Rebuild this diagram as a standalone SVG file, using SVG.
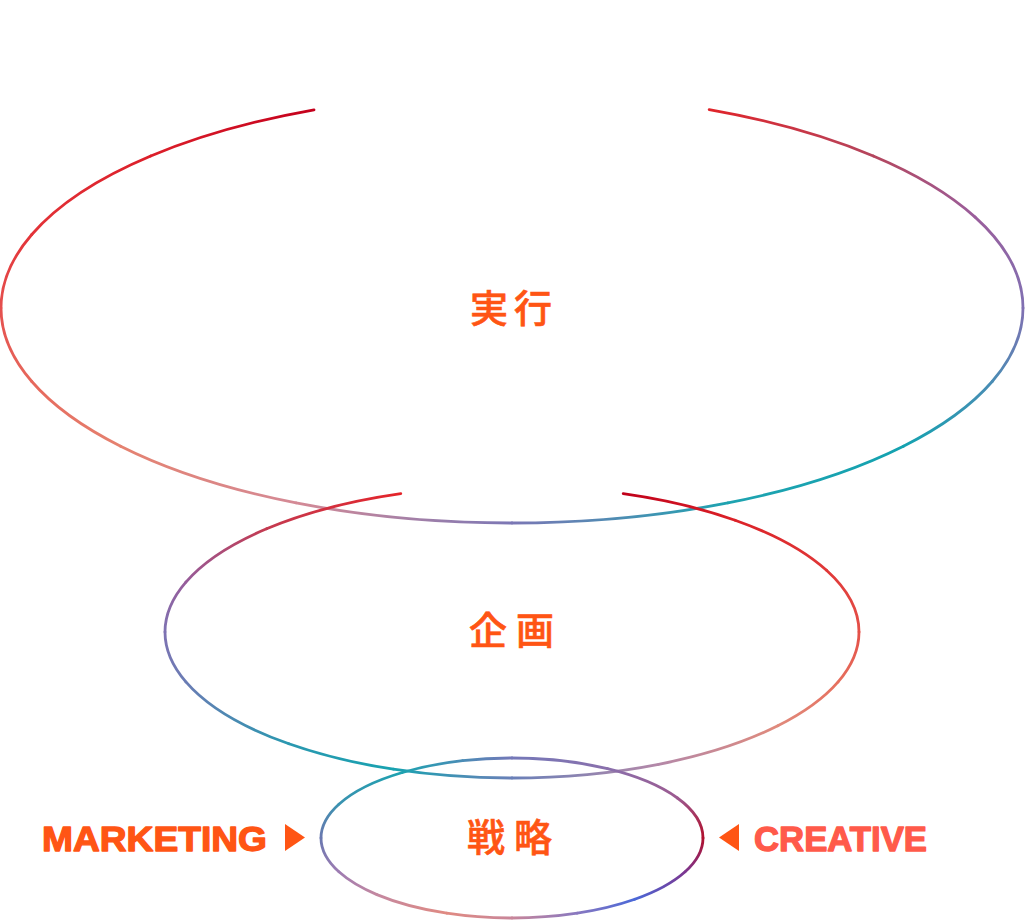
<svg xmlns="http://www.w3.org/2000/svg" width="1025" height="921" viewBox="0 0 1025 921">
<style>
.seg{fill:none;stroke-width:2.8;stroke-linecap:round}
.kanji{font-family:"Noto Sans CJK JP","Noto Sans CJK SC",sans-serif;font-size:38px;font-weight:500;fill:#ff5514;stroke:#ff5514;stroke-width:0.6;text-anchor:middle}
.lat{font-family:"Liberation Sans",Arial,sans-serif;font-size:35px;font-weight:bold;stroke-width:1.3;stroke-linejoin:round}
.tri{fill:#ff5514}
</style>
<defs>
<linearGradient id="t1" gradientUnits="userSpaceOnUse" x1="314" y1="109.8" x2="150.7" y2="156"><stop offset="0" stop-color="#c4001c"/><stop offset="1" stop-color="#dc1f2a"/></linearGradient>
<linearGradient id="t2" gradientUnits="userSpaceOnUse" x1="150.7" y1="156" x2="31.8" y2="234.5"><stop offset="0" stop-color="#dc1f2a"/><stop offset="1" stop-color="#e33338"/></linearGradient>
<linearGradient id="t3" gradientUnits="userSpaceOnUse" x1="31.8" y1="234.5" x2="1" y2="308"><stop offset="0" stop-color="#e33338"/><stop offset="1" stop-color="#e5504e"/></linearGradient>
<linearGradient id="t4" gradientUnits="userSpaceOnUse" x1="1" y1="308" x2="31.8" y2="381.5"><stop offset="0" stop-color="#e5504e"/><stop offset="1" stop-color="#e6685c"/></linearGradient>
<linearGradient id="t5" gradientUnits="userSpaceOnUse" x1="31.8" y1="381.5" x2="120.6" y2="446.2"><stop offset="0" stop-color="#e6685c"/><stop offset="1" stop-color="#e58270"/></linearGradient>
<linearGradient id="t6" gradientUnits="userSpaceOnUse" x1="120.6" y1="446.2" x2="296.1" y2="502.9"><stop offset="0" stop-color="#e58270"/><stop offset="1" stop-color="#d48a96"/></linearGradient>
<linearGradient id="t7" gradientUnits="userSpaceOnUse" x1="296.1" y1="502.9" x2="512" y2="523"><stop offset="0" stop-color="#d48a96"/><stop offset="1" stop-color="#7b77b5"/></linearGradient>
<linearGradient id="t8" gradientUnits="userSpaceOnUse" x1="512" y1="523" x2="727.9" y2="502.9"><stop offset="0" stop-color="#7b77b5"/><stop offset="1" stop-color="#1ea3b0"/></linearGradient>
<linearGradient id="t9" gradientUnits="userSpaceOnUse" x1="727.9" y1="502.9" x2="903.4" y2="446.2"><stop offset="0" stop-color="#1ea3b0"/><stop offset="1" stop-color="#14a2b0"/></linearGradient>
<linearGradient id="t10" gradientUnits="userSpaceOnUse" x1="903.4" y1="446.2" x2="992.2" y2="381.5"><stop offset="0" stop-color="#14a2b0"/><stop offset="1" stop-color="#4a8cb4"/></linearGradient>
<linearGradient id="t11" gradientUnits="userSpaceOnUse" x1="992.2" y1="381.5" x2="1023" y2="308"><stop offset="0" stop-color="#4a8cb4"/><stop offset="1" stop-color="#8070b2"/></linearGradient>
<linearGradient id="t12" gradientUnits="userSpaceOnUse" x1="1023" y1="308" x2="975.1" y2="217.1"><stop offset="0" stop-color="#8070b2"/><stop offset="1" stop-color="#9a5e9c"/></linearGradient>
<linearGradient id="t13" gradientUnits="userSpaceOnUse" x1="975.1" y1="217.1" x2="873.3" y2="156"><stop offset="0" stop-color="#9a5e9c"/><stop offset="1" stop-color="#b4465e"/></linearGradient>
<linearGradient id="t14" gradientUnits="userSpaceOnUse" x1="873.3" y1="156" x2="709.2" y2="109.6"><stop offset="0" stop-color="#b4465e"/><stop offset="1" stop-color="#e0242a"/></linearGradient>

<linearGradient id="m1" gradientUnits="userSpaceOnUse" x1="400.8" y1="493.7" x2="266.6" y2="528.8"><stop offset="0" stop-color="#e4242a"/><stop offset="1" stop-color="#c43a50"/></linearGradient>
<linearGradient id="m2" gradientUnits="userSpaceOnUse" x1="266.6" y1="528.8" x2="185.9" y2="582.1"><stop offset="0" stop-color="#c43a50"/><stop offset="1" stop-color="#965c9a"/></linearGradient>
<linearGradient id="m3" gradientUnits="userSpaceOnUse" x1="185.9" y1="582.1" x2="165" y2="632"><stop offset="0" stop-color="#965c9a"/><stop offset="1" stop-color="#7e72b2"/></linearGradient>
<linearGradient id="m4" gradientUnits="userSpaceOnUse" x1="165" y1="632" x2="185.9" y2="681.9"><stop offset="0" stop-color="#7e72b2"/><stop offset="1" stop-color="#6a7cb4"/></linearGradient>
<linearGradient id="m5" gradientUnits="userSpaceOnUse" x1="185.9" y1="681.9" x2="288.9" y2="743.8"><stop offset="0" stop-color="#6a7cb4"/><stop offset="1" stop-color="#2a98b0"/></linearGradient>
<linearGradient id="m6" gradientUnits="userSpaceOnUse" x1="288.9" y1="743.8" x2="393.3" y2="769.2"><stop offset="0" stop-color="#2a98b0"/><stop offset="1" stop-color="#18a2b0"/></linearGradient>
<linearGradient id="m7" gradientUnits="userSpaceOnUse" x1="393.3" y1="769.2" x2="512" y2="778"><stop offset="0" stop-color="#18a2b0"/><stop offset="1" stop-color="#6a80b8"/></linearGradient>
<linearGradient id="m8" gradientUnits="userSpaceOnUse" x1="512" y1="778" x2="658.6" y2="764.3"><stop offset="0" stop-color="#6a80b8"/><stop offset="1" stop-color="#b488a8"/></linearGradient>
<linearGradient id="m9" gradientUnits="userSpaceOnUse" x1="658.6" y1="764.3" x2="777.8" y2="725.8"><stop offset="0" stop-color="#b488a8"/><stop offset="1" stop-color="#e08a7c"/></linearGradient>
<linearGradient id="m10" gradientUnits="userSpaceOnUse" x1="777.8" y1="725.8" x2="838.1" y2="681.9"><stop offset="0" stop-color="#e08a7c"/><stop offset="1" stop-color="#e6705e"/></linearGradient>
<linearGradient id="m11" gradientUnits="userSpaceOnUse" x1="838.1" y1="681.9" x2="859" y2="632"><stop offset="0" stop-color="#e6705e"/><stop offset="1" stop-color="#e45048"/></linearGradient>
<linearGradient id="m12" gradientUnits="userSpaceOnUse" x1="859" y1="632" x2="826.5" y2="570.3"><stop offset="0" stop-color="#e45048"/><stop offset="1" stop-color="#e03838"/></linearGradient>
<linearGradient id="m13" gradientUnits="userSpaceOnUse" x1="826.5" y1="570.3" x2="735.1" y2="520.2"><stop offset="0" stop-color="#e03838"/><stop offset="1" stop-color="#dc2228"/></linearGradient>
<linearGradient id="m14" gradientUnits="userSpaceOnUse" x1="735.1" y1="520.2" x2="623.2" y2="493.7"><stop offset="0" stop-color="#dc2228"/><stop offset="1" stop-color="#c0001a"/></linearGradient>

<linearGradient id="b1" gradientUnits="userSpaceOnUse" x1="512" y1="758" x2="607.5" y2="768.7"><stop offset="0" stop-color="#7478b8"/><stop offset="1" stop-color="#8a70ac"/></linearGradient>
<linearGradient id="b2" gradientUnits="userSpaceOnUse" x1="607.5" y1="768.7" x2="677.4" y2="798"><stop offset="0" stop-color="#8a70ac"/><stop offset="1" stop-color="#9c5a90"/></linearGradient>
<linearGradient id="b3" gradientUnits="userSpaceOnUse" x1="677.4" y1="798" x2="703" y2="838"><stop offset="0" stop-color="#9c5a90"/><stop offset="1" stop-color="#b0102e"/></linearGradient>
<linearGradient id="b4" gradientUnits="userSpaceOnUse" x1="703" y1="838" x2="685.1" y2="871.8"><stop offset="0" stop-color="#b0102e"/><stop offset="1" stop-color="#7c3690"/></linearGradient>
<linearGradient id="b5" gradientUnits="userSpaceOnUse" x1="685.1" y1="871.8" x2="634.8" y2="899.3"><stop offset="0" stop-color="#7c3690"/><stop offset="1" stop-color="#4a68d8"/></linearGradient>
<linearGradient id="b6" gradientUnits="userSpaceOnUse" x1="634.8" y1="899.3" x2="577.3" y2="913.2"><stop offset="0" stop-color="#4a68d8"/><stop offset="1" stop-color="#8878c0"/></linearGradient>
<linearGradient id="b7" gradientUnits="userSpaceOnUse" x1="577.3" y1="913.2" x2="512" y2="918"><stop offset="0" stop-color="#8878c0"/><stop offset="1" stop-color="#c8869a"/></linearGradient>
<linearGradient id="b8" gradientUnits="userSpaceOnUse" x1="512" y1="918" x2="446.7" y2="913.2"><stop offset="0" stop-color="#c8869a"/><stop offset="1" stop-color="#e08a82"/></linearGradient>
<linearGradient id="b9" gradientUnits="userSpaceOnUse" x1="446.7" y1="913.2" x2="376.9" y2="894.6"><stop offset="0" stop-color="#e08a82"/><stop offset="1" stop-color="#c488a0"/></linearGradient>
<linearGradient id="b10" gradientUnits="userSpaceOnUse" x1="376.9" y1="894.6" x2="338.9" y2="871.8"><stop offset="0" stop-color="#c488a0"/><stop offset="1" stop-color="#9e7cb2"/></linearGradient>
<linearGradient id="b11" gradientUnits="userSpaceOnUse" x1="338.9" y1="871.8" x2="321" y2="838"><stop offset="0" stop-color="#9e7cb2"/><stop offset="1" stop-color="#6a78b0"/></linearGradient>
<linearGradient id="b12" gradientUnits="userSpaceOnUse" x1="321" y1="838" x2="338.9" y2="804.2"><stop offset="0" stop-color="#6a78b0"/><stop offset="1" stop-color="#3a92b0"/></linearGradient>
<linearGradient id="b13" gradientUnits="userSpaceOnUse" x1="338.9" y1="804.2" x2="402.4" y2="772.5"><stop offset="0" stop-color="#3a92b0"/><stop offset="1" stop-color="#1ea2b0"/></linearGradient>
<linearGradient id="b14" gradientUnits="userSpaceOnUse" x1="402.4" y1="772.5" x2="462.6" y2="760.7"><stop offset="0" stop-color="#1ea2b0"/><stop offset="1" stop-color="#4a8cb6"/></linearGradient>
<linearGradient id="b15" gradientUnits="userSpaceOnUse" x1="462.6" y1="760.7" x2="512" y2="758"><stop offset="0" stop-color="#4a8cb6"/><stop offset="1" stop-color="#7478b8"/></linearGradient>
</defs>
<rect width="1025" height="921" fill="#ffffff"/>

<g id="node-jikko">
<path class="seg" stroke="url(#t1)" d="M314 109.8A511 215 0 0 0 150.7 156"/>
<path class="seg" stroke="url(#t2)" d="M150.7 156A511 215 0 0 0 31.8 234.5"/>
<path class="seg" stroke="url(#t3)" d="M31.8 234.5A511 215 0 0 0 1 308"/>
<path class="seg" stroke="url(#t4)" d="M1 308A511 215 0 0 0 31.8 381.5"/>
<path class="seg" stroke="url(#t5)" d="M31.8 381.5A511 215 0 0 0 120.6 446.2"/>
<path class="seg" stroke="url(#t6)" d="M120.6 446.2A511 215 0 0 0 296.1 502.9"/>
<path class="seg" stroke="url(#t7)" d="M296.1 502.9A511 215 0 0 0 512 523"/>
<path class="seg" stroke="url(#t8)" d="M512 523A511 215 0 0 0 727.9 502.9"/>
<path class="seg" stroke="url(#t9)" d="M727.9 502.9A511 215 0 0 0 903.4 446.2"/>
<path class="seg" stroke="url(#t10)" d="M903.4 446.2A511 215 0 0 0 992.2 381.5"/>
<path class="seg" stroke="url(#t11)" d="M992.2 381.5A511 215 0 0 0 1023 308"/>
<path class="seg" stroke="url(#t12)" d="M1023 308A511 215 0 0 0 975.1 217.1"/>
<path class="seg" stroke="url(#t13)" d="M975.1 217.1A511 215 0 0 0 873.3 156"/>
<path class="seg" stroke="url(#t14)" d="M873.3 156A511 215 0 0 0 709.2 109.6"/>
<text class="kanji" x="489 533" y="322">実行</text>
</g>

<g id="node-kikaku">
<path class="seg" stroke="url(#m1)" d="M400.8 493.7A347 146 0 0 0 266.6 528.8"/>
<path class="seg" stroke="url(#m2)" d="M266.6 528.8A347 146 0 0 0 185.9 582.1"/>
<path class="seg" stroke="url(#m3)" d="M185.9 582.1A347 146 0 0 0 165 632"/>
<path class="seg" stroke="url(#m4)" d="M165 632A347 146 0 0 0 185.9 681.9"/>
<path class="seg" stroke="url(#m5)" d="M185.9 681.9A347 146 0 0 0 288.9 743.8"/>
<path class="seg" stroke="url(#m6)" d="M288.9 743.8A347 146 0 0 0 393.3 769.2"/>
<path class="seg" stroke="url(#m7)" d="M393.3 769.2A347 146 0 0 0 512 778"/>
<path class="seg" stroke="url(#m8)" d="M512 778A347 146 0 0 0 658.6 764.3"/>
<path class="seg" stroke="url(#m9)" d="M658.6 764.3A347 146 0 0 0 777.8 725.8"/>
<path class="seg" stroke="url(#m10)" d="M777.8 725.8A347 146 0 0 0 838.1 681.9"/>
<path class="seg" stroke="url(#m11)" d="M838.1 681.9A347 146 0 0 0 859 632"/>
<path class="seg" stroke="url(#m12)" d="M859 632A347 146 0 0 0 826.5 570.3"/>
<path class="seg" stroke="url(#m13)" d="M826.5 570.3A347 146 0 0 0 735.1 520.2"/>
<path class="seg" stroke="url(#m14)" d="M735.1 520.2A347 146 0 0 0 623.2 493.7"/>
<text class="kanji" x="488 535" y="644">企画</text>
</g>

<g id="node-senryaku">
<path class="seg" stroke="url(#b1)" d="M512 758A191 80 0 0 1 607.5 768.7"/>
<path class="seg" stroke="url(#b2)" d="M607.5 768.7A191 80 0 0 1 677.4 798"/>
<path class="seg" stroke="url(#b3)" d="M677.4 798A191 80 0 0 1 703 838"/>
<path class="seg" stroke="url(#b4)" d="M703 838A191 80 0 0 1 685.1 871.8"/>
<path class="seg" stroke="url(#b5)" d="M685.1 871.8A191 80 0 0 1 634.8 899.3"/>
<path class="seg" stroke="url(#b6)" d="M634.8 899.3A191 80 0 0 1 577.3 913.2"/>
<path class="seg" stroke="url(#b7)" d="M577.3 913.2A191 80 0 0 1 512 918"/>
<path class="seg" stroke="url(#b8)" d="M512 918A191 80 0 0 1 446.7 913.2"/>
<path class="seg" stroke="url(#b9)" d="M446.7 913.2A191 80 0 0 1 376.9 894.6"/>
<path class="seg" stroke="url(#b10)" d="M376.9 894.6A191 80 0 0 1 338.9 871.8"/>
<path class="seg" stroke="url(#b11)" d="M338.9 871.8A191 80 0 0 1 321 838"/>
<path class="seg" stroke="url(#b12)" d="M321 838A191 80 0 0 1 338.9 804.2"/>
<path class="seg" stroke="url(#b13)" d="M338.9 804.2A191 80 0 0 1 402.4 772.5"/>
<path class="seg" stroke="url(#b14)" d="M402.4 772.5A191 80 0 0 1 462.6 760.7"/>
<path class="seg" stroke="url(#b15)" d="M462.6 760.7A191 80 0 0 1 512 758"/>
<text class="kanji" x="486 533" y="851">戦略</text>
</g>

<g id="label-marketing">
<text class="lat" x="42" y="851" fill="#ff5514" stroke="#ff5514" textLength="225" lengthAdjust="spacingAndGlyphs">MARKETING</text>
</g>
<g id="label-creative">
<text class="lat" x="754" y="851" fill="#ff5a4a" stroke="#ff5a4a" textLength="173" lengthAdjust="spacingAndGlyphs">CREATIVE</text>
</g>

<g id="connectors">
<polygon class="tri" points="285,824 285,851 305,837.5"/>
<polygon class="tri" points="739,824 739,851 719,837.5"/>
</g>
</svg>
